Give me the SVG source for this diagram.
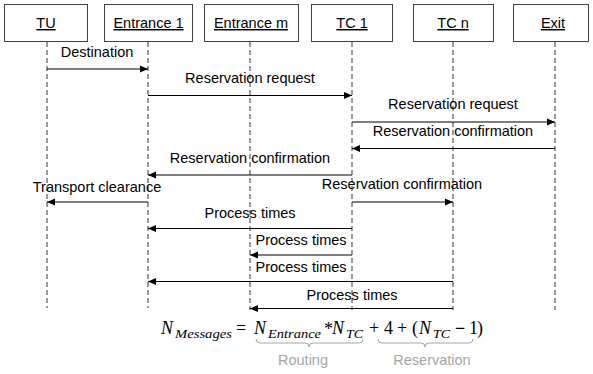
<svg xmlns="http://www.w3.org/2000/svg" width="593" height="374" viewBox="0 0 593 374">
<defs>
<style>
.box{fill:#fff;stroke:#404040;stroke-width:1}
.lbl{font-family:"Liberation Sans",Arial,sans-serif;font-size:14.5px;fill:#000;text-anchor:middle}
.ul{text-decoration:underline}
.life{stroke:#333;stroke-width:1;stroke-dasharray:5,3;fill:none}
.msg{stroke:#000;stroke-width:1;fill:none;marker-end:url(#ah)}
.m{font-family:"Liberation Serif","Times New Roman",serif;font-style:italic;font-size:18px;fill:#000}
.ms{font-family:"Liberation Serif","Times New Roman",serif;font-style:italic;font-size:13.5px;fill:#000}
.mu{font-family:"Liberation Serif","Times New Roman",serif;font-size:18px;fill:#000}
.br{stroke:#a6a6a6;stroke-width:1;fill:none}
.gr{font-family:"Liberation Sans",Arial,sans-serif;font-size:14.5px;fill:#a6a6a6;text-anchor:middle}
</style>
<marker id="ah" viewBox="0 0 8 8" refX="8" refY="4" markerWidth="8" markerHeight="8" markerUnits="userSpaceOnUse" orient="auto">
<path d="M0,0.5 L8,4 L0,7.5 Z" fill="#000"/>
</marker>
</defs>
<g id="TU"><rect class="box" x="4.5" y="4.5" width="83" height="37"/><text class="lbl ul" x="46" y="28">TU</text><line class="life" x1="47" y1="42" x2="47" y2="308"/></g>
<g id="Entrance1"><rect class="box" x="104.5" y="4.5" width="88" height="37"/><text class="lbl ul" x="148.5" y="28">Entrance 1</text><line class="life" x1="148" y1="42" x2="148" y2="308"/></g>
<g id="EntranceM"><rect class="box" x="204.5" y="4.5" width="94" height="37"/><text class="lbl ul" x="251" y="28">Entrance m</text><line class="life" x1="250" y1="42" x2="250" y2="310"/></g>
<g id="TC1"><rect class="box" x="311.5" y="4.5" width="81" height="37"/><text class="lbl ul" x="352" y="28">TC 1</text><line class="life" x1="352" y1="42" x2="352" y2="310"/></g>
<g id="TCn"><rect class="box" x="413.5" y="4.5" width="80" height="37"/><text class="lbl ul" x="453" y="28">TC n</text><line class="life" x1="453" y1="42" x2="453" y2="310"/></g>
<g id="Exit"><rect class="box" x="513.5" y="4.5" width="75" height="37"/><text class="lbl ul" x="553" y="28">Exit</text><line class="life" x1="555" y1="42" x2="555" y2="310"/></g>
<g id="connectors">
<line class="msg" x1="47" y1="69" x2="148" y2="69"/>
<text class="lbl" x="97" y="57">Destination</text>
<line class="msg" x1="148" y1="95.5" x2="352" y2="95.5"/>
<text class="lbl" x="250" y="83">Reservation request</text>
<line class="msg" x1="352" y1="122" x2="555" y2="122"/>
<text class="lbl" x="453" y="109">Reservation request</text>
<line class="msg" x1="555" y1="148.5" x2="352" y2="148.5"/>
<text class="lbl" x="453" y="136">Reservation confirmation</text>
<line class="msg" x1="352" y1="175" x2="148" y2="175"/>
<text class="lbl" x="250" y="163">Reservation confirmation</text>
<line class="msg" x1="148" y1="202" x2="47" y2="202"/>
<text class="lbl" x="97" y="192">Transport clearance</text>
<line class="msg" x1="352" y1="202" x2="453" y2="202"/>
<text class="lbl" x="402" y="189">Reservation confirmation</text>
<line class="msg" x1="352" y1="228.5" x2="148" y2="228.5"/>
<text class="lbl" x="250" y="218">Process times</text>
<line class="msg" x1="352" y1="255" x2="250" y2="255"/>
<text class="lbl" x="301" y="245">Process times</text>
<line class="msg" x1="453" y1="281.5" x2="148" y2="281.5"/>
<text class="lbl" x="301" y="272">Process times</text>
<line class="msg" x1="453" y1="308.5" x2="250" y2="308.5"/>
<text class="lbl" x="352" y="300">Process times</text>
</g>
<g id="formula">
<text class="m" x="161" y="334">N</text>
<text class="ms" x="175" y="338" textLength="57" lengthAdjust="spacingAndGlyphs">Messages</text>
<text class="mu" x="236" y="334">=</text>
<text class="m" x="254" y="334">N</text>
<text class="ms" x="268" y="338" textLength="53" lengthAdjust="spacingAndGlyphs">Entrance</text>
<text class="mu" x="324" y="335">*</text>
<text class="m" x="332" y="334">N</text>
<text class="ms" x="346" y="338" textLength="17" lengthAdjust="spacingAndGlyphs">TC</text>
<text class="mu" x="369" y="334">+</text>
<text class="mu" x="384" y="334">4</text>
<text class="mu" x="397" y="334">+</text>
<text class="mu" x="412" y="334">(</text>
<text class="m" x="419" y="334">N</text>
<text class="ms" x="433" y="338" textLength="17" lengthAdjust="spacingAndGlyphs">TC</text>
<text class="mu" x="455" y="334" font-weight="bold">−</text>
<text class="mu" x="469" y="334">1</text>
<text class="mu" x="477" y="334">)</text>
<path class="br" d="M256,339 Q256,343 260,343 L305,343 Q309,343 309,347 Q309,343 313,343 L359,343 Q363,343 363,339"/>
<path class="br" d="M378,339 Q378,343 382,343 L421,343 Q425,343 425,347 Q425,343 429,343 L469,343 Q473,343 473,339"/>
<text class="gr" x="303" y="365">Routing</text>
<text class="gr" x="432" y="365">Reservation</text>
</g>
</svg>
